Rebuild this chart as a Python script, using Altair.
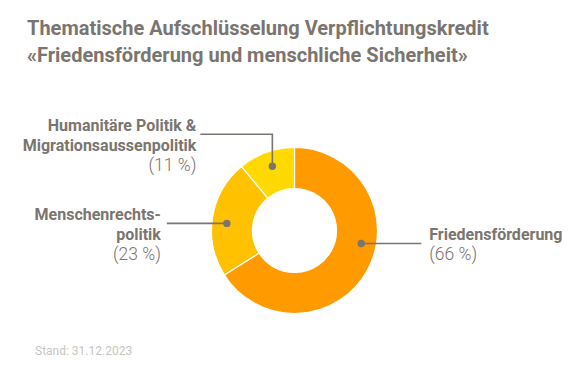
import math
import altair as alt
import pandas as pd

# ---- data ----
categories = ["Friedensförderung", "Menschenrechtspolitik", "Humanitäre Politik & Migrationsaussenpolitik"]
shares = [66, 23, 11]
colors = ["#FF9A00", "#FFC100", "#FFD900"]
label_lines = [["Friedensförderung"], ["Menschenrechts-", "politik"], ["Humanitäre Politik &", "Migrationsaussenpolitik"]]
title_lines = ["Thematische Aufschlüsselung Verpflichtungskredit",
               "«Friedensförderung und menschliche Sicherheit»"]
footer = "Stand: 31.12.2023"

# ---- layout ----
W, H = 572, 352
CX, CY = 286.5, 222.5
R_OUT, R_IN = 83, 42
anchor_deg = [101, 276, 341]
anchor_r = 68
GRAY = "#7a756f"
FONT = "Roboto"

df = pd.DataFrame({"cat": categories, "share": shares, "order": [0, 1, 2]})

xs = alt.Scale(domain=[0, W], range=[0, W])
ys = alt.Scale(domain=[0, H], range=[0, H])

donut = alt.Chart(df).mark_arc(innerRadius=R_IN, outerRadius=R_OUT, stroke="white", strokeWidth=1.2).encode(
    theta=alt.Theta("share:Q", stack=True),
    order=alt.Order("order:Q"),
    color=alt.Color("cat:N", scale=alt.Scale(domain=categories, range=colors), legend=None),
    x=alt.value(CX), y=alt.value(CY),
)

# leader lines
pts, lines, texts = [], [], []
for i, cat in enumerate(categories):
    a = math.radians(anchor_deg[i])
    px = CX + anchor_r * math.sin(a)
    py = CY - anchor_r * math.cos(a)
    pts.append({"x": px, "y": py})
    if i == 0:
        path = [(px, py), (px + 60, py)]
        tx, al, ty = px + 68, "left", py
    elif i == 1:
        path = [(px, py), (px - 60, py)]
        tx, al, ty = px - 66, "right", py
    else:
        path = [(px, py), (px, py - 32), (px - 72, py - 32)]
        tx, al, ty = px - 76, "right", py - 32
    for k, (lx, ly) in enumerate(path):
        lines.append({"g": i, "k": k, "x": lx, "y": ly})
    rows = label_lines[i] + [f"({shares[i]} %)"]
    for j, t in enumerate(rows):
        texts.append({"t": t, "x": tx, "y": ty - 3 + 20 * j, "al": al,
                      "wt": "pct" if j == len(rows) - 1 else "bold"})

pts_df = pd.DataFrame(pts)
lines_df = pd.DataFrame(lines)
texts_df = pd.DataFrame(texts)

leader = alt.Chart(lines_df).mark_line(color=GRAY, strokeWidth=1.6).encode(
    x=alt.X("x:Q", scale=xs, axis=None), y=alt.Y("y:Q", scale=ys, axis=None),
    detail="g:N", order="k:Q")
dots = alt.Chart(pts_df).mark_circle(color=GRAY, opacity=1, size=55).encode(
    x=alt.X("x:Q", scale=xs, axis=None), y=alt.Y("y:Q", scale=ys, axis=None))

def label_layer(al, wt):
    d = texts_df[(texts_df["al"] == al) & (texts_df["wt"] == wt)]
    if wt == "bold":
        mk = dict(fontSize=16, fontWeight="bold")
    else:
        mk = dict(fontSize=17.5, fontWeight=300)
    return alt.Chart(d).mark_text(align=al, baseline="alphabetic", font=FONT,
                                  color=GRAY, **mk).encode(
        x=alt.X("x:Q", scale=xs, axis=None), y=alt.Y("y:Q", scale=ys, axis=None), text="t:N")

labels = [label_layer(a, w) for a in ["left", "right"] for w in ["bold", "pct"]]

title_df = pd.DataFrame({"t": title_lines, "i": [0, 1]})
title = alt.Chart(title_df).mark_text(align="left", baseline="alphabetic", font=FONT, fontSize=20,
                                      fontWeight="bold", color=GRAY).encode(
    x=alt.value(19), y=alt.Y("i:Q", scale=alt.Scale(domain=[0, 1], range=[27, 54]), axis=None), text="t:N")
foot = alt.Chart(pd.DataFrame({"t": [footer]})).mark_text(
    align="left", baseline="alphabetic", font=FONT, fontSize=12, color="#c8c5c0").encode(
    x=alt.value(27), y=alt.value(347), text="t:N")

chart = alt.layer(donut, leader, dots, *labels, title, foot).properties(
    width=W, height=H, padding=0, autosize=alt.AutoSizeParams(type="none")
).configure_view(stroke=None).resolve_scale(y="independent")

chart.save("out.html", embed_options={"renderer": "svg", "actions": False})
